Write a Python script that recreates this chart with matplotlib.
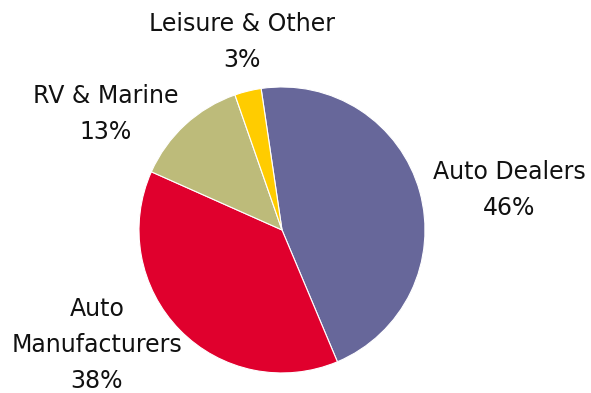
import matplotlib
matplotlib.use("Agg")
import matplotlib.pyplot as plt

# revenue mix by customer segment
segments = ["Auto Dealers", "Auto\nManufacturers", "RV & Marine", "Leisure & Other"]
shares = [46, 38, 13, 3]
colors = ["#67679a", "#e0002d", "#bdbb7a", "#ffcc00"]

# label anchor points (pie radius = 1)
label_xy = [(1.587, 0.280), (-1.294, -0.805), (-1.231, 0.811), (-0.280, 1.315)]

fig = plt.figure(figsize=(5.91, 3.93), dpi=100)
ax = fig.add_axes([0, 0, 1, 1])

ax.pie(shares, colors=colors, startangle=98.4, counterclock=False,
       radius=1.0, center=(0, 0),
       wedgeprops=dict(edgecolor="white", linewidth=0.8))

for name, pct, (x, y) in zip(segments, shares, label_xy):
    ax.text(x, y, f"{name}\n{pct}%", ha="center", va="center",
            fontsize=17, color="#111111", linespacing=1.65,
            family="DejaVu Sans")

ax.set_xlim(-1.972, 2.161)
ax.set_ylim(-1.140, 1.608)
ax.set_aspect("equal")
ax.axis("off")

fig.savefig("out.png", dpi=100)
